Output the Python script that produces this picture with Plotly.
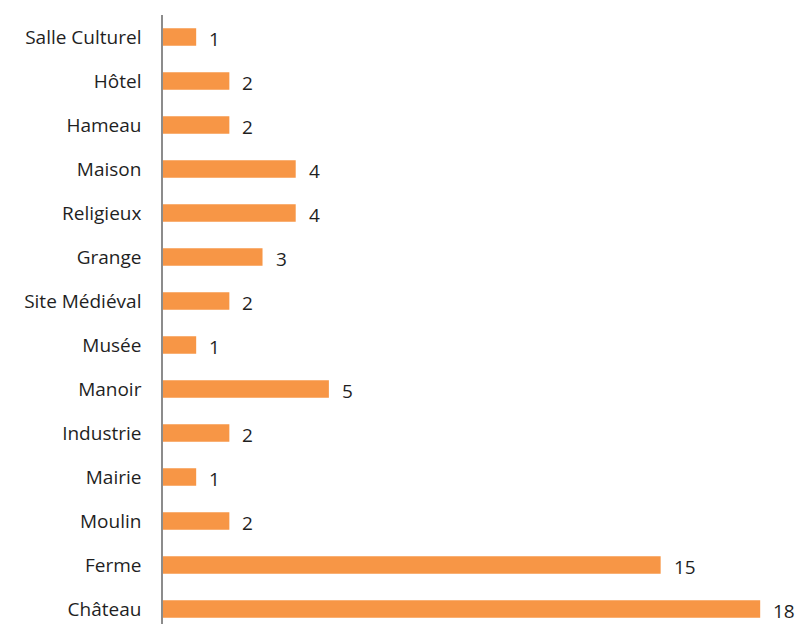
import plotly.graph_objects as go

# Categories listed bottom-to-top as they appear on the y axis
categories = ["Château", "Ferme", "Moulin", "Mairie", "Industrie", "Manoir", "Musée",
              "Site Médiéval", "Grange", "Religieux", "Maison", "Hameau", "Hôtel",
              "Salle Culturel"]
counts = [18, 15, 2, 1, 2, 5, 1, 2, 3, 4, 4, 2, 2, 1]

BAR_COLOR = "#F79646"
FONT = "'Open Sans', Lato, sans-serif"
TEXT_COLOR = "#1f1f1f"

fig = go.Figure(go.Bar(
    x=counts,
    y=categories,
    orientation="h",
    marker=dict(color=BAR_COLOR, line=dict(width=0)),
    hoverinfo="x+y",
))

# Value labels just right of each bar end
for cat, val in zip(categories, counts):
    fig.add_annotation(x=val, y=cat, text=str(val), showarrow=False,
                       xanchor="left", yanchor="middle", xshift=11, yshift=-2,
                       font=dict(family=FONT, size=19, color=TEXT_COLOR))

fig.update_layout(
    width=801, height=624,
    margin=dict(l=163, r=0, t=15, b=0),
    paper_bgcolor="white", plot_bgcolor="white",
    bargap=0.6,
    showlegend=False,
    font=dict(family=FONT, size=19, color=TEXT_COLOR),
    xaxis=dict(range=[0, 19.23], visible=False, showgrid=False, zeroline=False),
    yaxis=dict(type="category", range=[-0.34, 13.5], showgrid=False, zeroline=False,
               showline=True, linecolor="#8c8c8c", linewidth=1.5,
               ticks="", ticklabelstandoff=16,
               tickfont=dict(family=FONT, size=19, color=TEXT_COLOR)),
)

fig.write_html("out.html")
